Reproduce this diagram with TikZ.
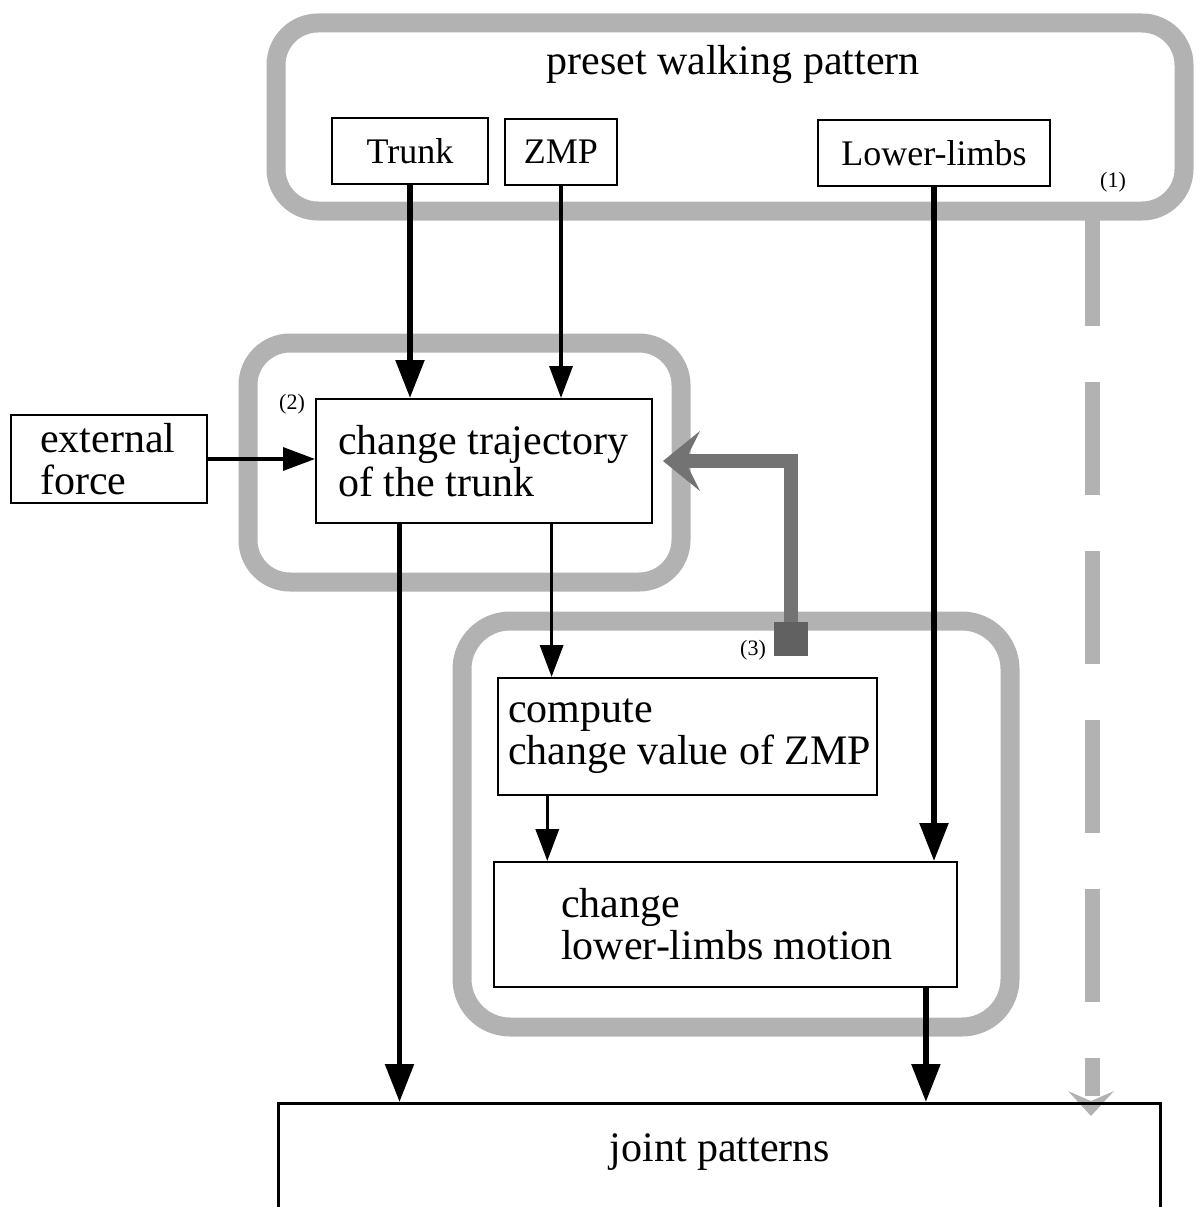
\documentclass[tikz,border=0pt]{standalone}
\usepackage{fontspec}
\setmainfont{Liberation Serif}
\usetikzlibrary{arrows.meta,calc}
\begin{document}
\begin{tikzpicture}[x=1pt,y=-1pt,
  band/.style={line width=19pt,color=black!30,rounded corners=42pt},
  box/.style={draw=black,line width=2pt,fill=white,inner sep=0pt},
  bigtxt/.style={font=\fontsize{42}{42}\selectfont},
  inbox/.style={bigtxt,align=left,anchor=west,inner sep=0pt},
  boxtxt/.style={font=\fontsize{36}{40}\selectfont},
  smalltxt/.style={font=\fontsize{22}{24}\selectfont,inner sep=0pt},
  arrthick/.style={line width=5.5pt,-{Triangle[length=38pt,width=28pt]}},
  arrthin/.style={line width=3.5pt,-{Triangle[length=32pt,width=23pt]}},
  fbcol/.style={color=black!55},
]
\useasboundingbox (0,0) rectangle (1195,1207);
\clip (0,0) rectangle (1195,1207);

% grey group bands
\draw[band] (276,23) rectangle (1184,211);
\draw[band] (248,343) rectangle (681,582);
\draw[band,rounded corners=48pt] (462,621) rectangle (1010,1027);

% dashed grey path (1)
\coordinate (d1) at (1092,213);
\coordinate (d2) at (1092,1096);
\draw[line width=15pt,color=black!30,dash pattern=on 113pt off 56pt] (d1) -- (d2);
\fill[black!30] (1091,1116) -- (1068,1091) -- (1091,1101) -- (1114,1091) -- cycle;

% title
\node[bigtxt] (title) at (733,64) {preset walking pattern};

% top boxes
\node[box,boxtxt,minimum width=156pt,minimum height=66pt] (tk) at (410,151) {Trunk};
\node[box,boxtxt,minimum width=112pt,minimum height=66pt] (zmp) at (561,152) {ZMP};
\node[box,boxtxt,minimum width=232pt,minimum height=66pt] (ll) at (934,153) {Lower-limbs};

% labels
\node[smalltxt] (l1) at (1113,182) {(1)};
\node[smalltxt] (l2) at (292,404) {(2)};
\node[smalltxt] (l3) at (753,650) {(3)};

% main boxes
\node[box,minimum width=196pt,minimum height=88pt] (ef) at (109,459) {};
\node[inbox] (eft) at ([xshift=30pt]ef.west) {external\\force};
\node[box,minimum width=336pt,minimum height=124pt] (tr) at (484,461) {};
\node[inbox] (trt) at ([xshift=23pt]tr.west) {change trajectory\\of the trunk};
\node[box,minimum width=379pt,minimum height=117pt] (cz) at (687.5,736.5) {};
\node[inbox] (czt) at ([xshift=11pt]cz.west) {compute\\change value of ZMP};
\node[box,minimum width=463pt,minimum height=125pt] (cl) at (725.5,924.5) {};
\node[inbox] (clt) at ([xshift=68pt]cl.west) {change\\lower-limbs motion};

% joint patterns
\node[draw=black,line width=3pt,minimum width=882pt,minimum height=140pt,anchor=north,inner sep=0pt] (jpbox) at (719,1102) {};
\node[bigtxt] (jp) at (720,1152) {joint patterns};

% feedback arrow (3)
\node[fill=black!62,minimum width=34pt,minimum height=34pt,inner sep=0pt] (sq) at (791,639) {};
\coordinate (fbend) at (684,461);
\draw[fbcol,line width=14pt,line join=miter] (sq.north) |- (fbend);
\fill[fbcol] (663,461) -- (700,431) -- (685,461) -- (700,491) -- cycle;

% black arrows
\draw[arrthick] (tk.south) -- (tk.south |- tr.north);
\draw[arrthin] (zmp.south) -- (zmp.south |- tr.north);
\draw[arrthin] (ef.east) -- (ef.east -| tr.west);
\draw[arrthick] (ll.south) -- (ll.south |- cl.north);
\coordinate (a1) at ($(tr.south west)!0.25!(tr.south east)$);
\draw[arrthick] (a1) -- (a1 |- jpbox.north);
\coordinate (a2) at ($(tr.south west)!0.7!(tr.south east)$);
\draw[arrthin] (a2) -- (a2 |- cz.north);
\coordinate (a3) at ($(cz.south west)!0.132!(cz.south east)$);
\draw[arrthin] (a3) -- (a3 |- cl.north);
\coordinate (a4) at ($(cl.south west)!0.931!(cl.south east)$);
\draw[arrthick] (a4) -- (a4 |- jpbox.north);
\end{tikzpicture}
\end{document}
